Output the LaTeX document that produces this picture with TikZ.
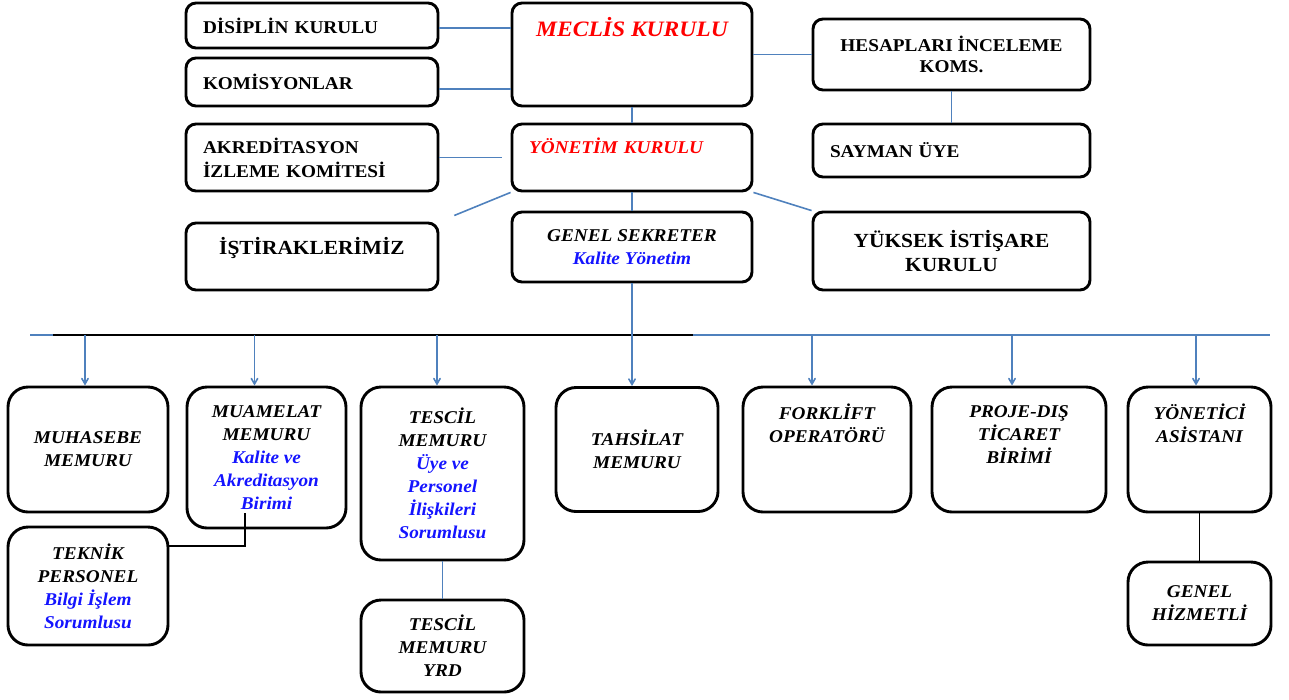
\documentclass[tikz,border=0pt]{standalone}
\usepackage{fontspec}
\setmainfont[FakeStretch=1.07]{Liberation Serif}
\usepackage{tikz}
\usetikzlibrary{arrows}
\definecolor{linkblue}{RGB}{79,129,189}
\definecolor{subblue}{RGB}{20,20,255}
\definecolor{headred}{RGB}{255,0,0}
\newcommand{\bluetext}[1]{\textcolor{subblue}{#1}}
\tikzset{link/.style={draw=linkblue, line width=1.6pt, >=angle 60},
	plain_link/.style={draw=black, line width=1.4pt}
}
\tikzstyle{upper_node} = [draw, rounded corners=10pt, line width=2.9pt, inner xsep=17pt, font=\bfseries\fontsize{18}{23}\selectfont]
\tikzstyle{lower_node} = [draw, rounded corners=20pt, line width=2.9pt, align=center, font=\bfseries\itshape\fontsize{18}{23}\selectfont]

\begin{document}
\begin{tikzpicture}[x=1pt, y=1pt]
			\useasboundingbox (0,0) rectangle (1289,-699);
			\node[upper_node, minimum width=240pt, minimum height=103pt, text height=16pt, text depth=52pt, text=headred, font=\bfseries\itshape\fontsize{22}{26}\selectfont] (meclis) at (632,-54.5) {MECLİS KURULU};
			\node[upper_node, below of=meclis, yshift=-74.55pt, text width=206pt, align=left, minimum height=67pt, text height=13pt, text depth=21pt, text=headred, font=\bfseries\itshape\fontsize{18}{23}\selectfont] (yonetim) {YÖNETİM KURULU};
			\node[upper_node, below of=yonetim, yshift=-61.05pt, minimum width=240pt, minimum height=70pt, align=center, font=\bfseries\itshape\fontsize{18}{23}\selectfont] (gensek) {GENEL SEKRETER\\\bluetext{Kalite Yönetim}};
			\node[upper_node, left of=meclis, xshift=-291.55pt, yshift=29pt, text width=218pt, align=left, minimum height=45pt] (disiplin) {DİSİPLİN KURULU};
			\node[upper_node, below of=disiplin, yshift=-28.05pt, text width=218pt, align=left, minimum height=48pt] (komisyon) {KOMİSYONLAR};
			\node[upper_node, left of=yonetim, xshift=-291.55pt, text width=218pt, align=left, minimum height=67pt, font=\bfseries\fontsize{18}{24}\selectfont] (akredit) {AKREDİTASYON\\İZLEME KOMİTESİ};
			\node[upper_node, left of=gensek, xshift=-291.55pt, yshift=-9.5pt, minimum width=252pt, minimum height=67pt, text height=14pt, text depth=18pt, font=\bfseries\fontsize{20}{24}\selectfont] (istirak) {İŞTİRAKLERİMİZ};
			\node[upper_node, right of=meclis, xshift=291.05pt, minimum width=277pt, minimum height=71pt, align=center, font=\bfseries\fontsize{18}{21}\selectfont] (hesap) {HESAPLARI İNCELEME\\KOMS.};
			\node[upper_node, right of=yonetim, xshift=291.05pt, yshift=7pt, text width=243pt, align=left, minimum height=53pt] (sayman) {SAYMAN ÜYE};
			\node[upper_node, right of=gensek, xshift=291.05pt, yshift=-4pt, minimum width=277pt, minimum height=78pt, align=center, font=\bfseries\fontsize{20}{24}\selectfont] (yuksek) {YÜKSEK İSTİŞARE\\KURULU};

			\node[lower_node, below of=gensek, xshift=5pt, yshift=-174.05pt, minimum width=162pt, minimum height=124pt] (tahsilat) {TAHSİLAT\\MEMURU};
			\node[lower_node, left of=tahsilat, xshift=-166.05pt, yshift=-24pt, minimum width=163pt, minimum height=173pt] (tescil) {TESCİL\\MEMURU\\\bluetext{Üye ve}\\\bluetext{Personel}\\\bluetext{İlişkileri}\\\bluetext{Sorumlusu}};
			\node[lower_node, left of=tescil, xshift=-147.55pt, yshift=16pt, minimum width=159pt, minimum height=141pt] (muamelat) {MUAMELAT\\MEMURU\\\bluetext{Kalite ve}\\\bluetext{Akreditasyon}\\\bluetext{Birimi}};
			\node[lower_node, left of=muamelat, xshift=-150.05pt, yshift=8pt, minimum width=160pt, minimum height=125pt] (muhasebe) {MUHASEBE\\MEMURU};
			\node[lower_node, right of=tahsilat, xshift=161.55pt, minimum width=168pt, minimum height=125pt] (forklift) {FORKLİFT\\OPERATÖRÜ\\[30pt]\mbox{}};
			\node[lower_node, right of=forklift, xshift=163.55pt, minimum width=174pt, minimum height=125pt] (proje) {PROJE-DIŞ\\TİCARET\\BİRİMİ\\[7pt]\mbox{}};
			\node[lower_node, right of=proje, xshift=152.05pt, minimum width=143pt, minimum height=125pt] (yonetici) {YÖNETİCİ\\ASİSTANI\\[30pt]\mbox{}};
			\node[lower_node, below of=muhasebe, yshift=-108.05pt, minimum width=160pt, minimum height=118pt] (teknik) {TEKNİK\\PERSONEL\\\bluetext{Bilgi İşlem}\\\bluetext{Sorumlusu}};
			\node[lower_node, below of=tescil, yshift=-144.05pt, minimum width=163pt, minimum height=92pt] (tescil_yrd) {TESCİL\\MEMURU\\YRD};
			\node[lower_node, below of=yonetici, yshift=-125.55pt, minimum width=143pt, minimum height=83pt] (genel_hizmetli) {GENEL\\HİZMETLİ};

			% draw lines
			\draw[link] ([yshift=-2.5pt]disiplin.east) -- ([yshift=-2.5pt]disiplin.east -| meclis.west);
			\draw[link] ([yshift=-7pt]komisyon.east) -- ([yshift=-7pt]komisyon.east -| meclis.west);
			\draw[link] (meclis.east) -- (hesap.west);
			\draw[link] (meclis.south) -- (yonetim.north);
			\draw[link] (hesap.south) -- (sayman.north);
			\draw[link, shorten >=9pt] (akredit.east) -- (yonetim.west);
			\draw[link, shorten >=16pt] (yonetim.south west) -- (istirak.north east);
			\draw[link] (yonetim.south east) -- (yuksek.north west);
			\draw[link] (yonetim.south) -- (gensek.north);

			\coordinate (bus_left) at (30,-335);
			\coordinate (bus_right) at (1270,-335);
			\coordinate (bus_dark_left) at (53,-335);
			\coordinate (bus_dark_right) at (693,-335);
			\draw[link] (bus_left) -- (bus_right);
			\draw[plain_link] (bus_dark_left) -- (bus_dark_right);

			\draw[link, ->] (gensek.south) -- (gensek.south |- tahsilat.north);
			\draw[link, ->] ([xshift=-3pt]muhasebe.north |- bus_left) -- ([xshift=-3pt]muhasebe.north);
			\draw[link, ->] ([xshift=-12pt]muamelat.north |- bus_left) -- ([xshift=-12pt]muamelat.north);
			\draw[link, ->] ([xshift=-5.5pt]tescil.north |- bus_left) -- ([xshift=-5.5pt]tescil.north);
			\draw[link, ->] ([xshift=-15pt]forklift.north |- bus_left) -- ([xshift=-15pt]forklift.north);
			\draw[link, ->] ([xshift=-7pt]proje.north |- bus_left) -- ([xshift=-7pt]proje.north);
			\draw[link, ->] ([xshift=-3.5pt]yonetici.north |- bus_left) -- ([xshift=-3.5pt]yonetici.north);

			\draw[link] (tescil.south) -- (tescil_yrd.north);
			\draw[plain_link] (yonetici.south) -- (genel_hizmetli.north);
			\draw[plain_link] ([yshift=40pt]teknik.east) -| ([xshift=-21.5pt, yshift=16pt]muamelat.south);
		\end{tikzpicture}
\end{document}
